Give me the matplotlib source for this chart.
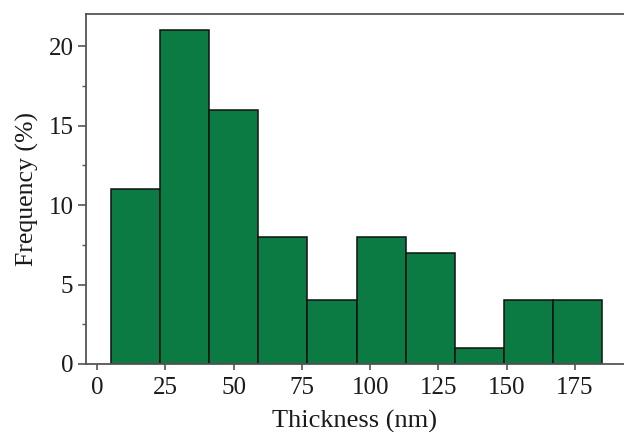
import matplotlib
matplotlib.use("Agg")
import matplotlib.pyplot as plt
import numpy as np
from matplotlib.ticker import MultipleLocator

bin_edges = [5, 23, 41, 59, 77, 95, 113, 131, 149, 167, 185]
frequencies = [11, 21, 16, 8, 4, 8, 7, 1, 4, 4]
x_ticks = [0, 25, 50, 75, 100, 125, 150, 175]
y_ticks = [0, 5, 10, 15, 20]

plt.rcParams['font.family'] = ['Liberation Serif', 'DejaVu Serif']

fig = plt.figure(figsize=(6.24, 4.32), dpi=100)
ax = fig.add_axes([86/624, 1-364/432, (624-86)/624, (364-14.3)/432])

edges = np.array(bin_edges, dtype=float)
ax.bar(edges[:-1], frequencies, width=np.diff(edges), align='edge',
       color='#0b7a43', edgecolor='#111111', linewidth=1.1)

ax.set_xlim(-4.1, 193.0)
ax.set_ylim(0, 22)
ax.set_xticks(x_ticks)
ax.set_yticks(y_ticks)
ax.yaxis.set_minor_locator(MultipleLocator(2.5))

for s in ax.spines.values():
    s.set_color('#555555')
    s.set_linewidth(1.3)
ax.spines['right'].set_visible(False)

ax.tick_params(axis='both', which='major', labelsize=18, colors='#555555',
               labelcolor='#1a1a1a', width=1.2)
ax.tick_params(axis='x', which='major', length=4.5, pad=5)
ax.tick_params(axis='y', which='major', length=6, pad=3)
ax.tick_params(axis='y', which='minor', length=3, width=1.0, colors='#555555')

ax.set_xlabel('Thickness (nm)', fontsize=19, color='#1a1a1a', labelpad=8)
ax.set_ylabel('Frequency (%)', fontsize=18.5, color='#1a1a1a', labelpad=7)

fig.savefig('out.png', dpi=100)
